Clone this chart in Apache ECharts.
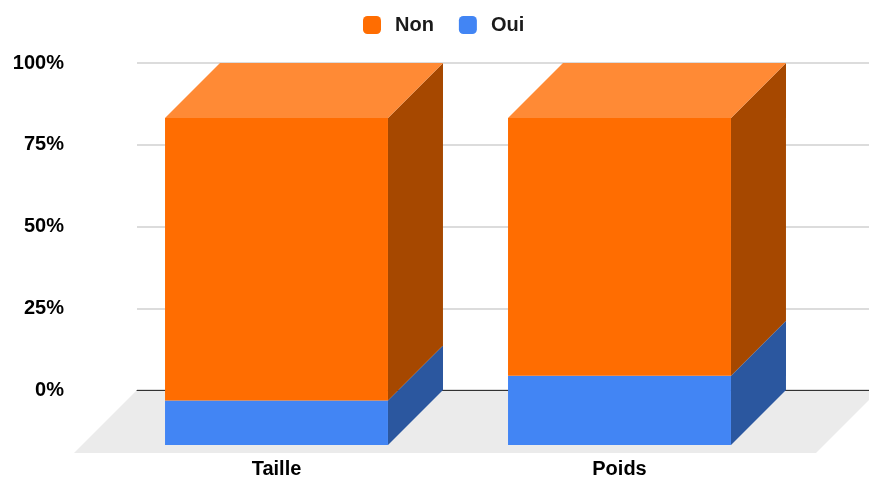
<!DOCTYPE html>
<html>
<head>
<meta charset="utf-8">
<script src="https://cdn.jsdelivr.net/npm/echarts@6/dist/echarts.min.js"></script>
<style>
  html, body { margin: 0; padding: 0; background: #fff; }
  #chart { width: 869px; height: 479px; }
</style>
</head>
<body>
<div id="chart"></div>
<script>
"use strict";

// data
const categories = ['Taille', 'Poids'];
const nonValues = [86.4, 78.8];
const ouiValues = [13.6, 21.2];
const yTicks = [0, 25, 50, 75, 100];

// 3d look
const DEPTH = 55;
const FLOOR_DEPTH = 63;
const BAR_RATIO = 0.65;
const FONT = 'Liberation Sans, Arial, sans-serif';

const colors = {
    non: { front: '#ff6d01', top: '#ff8a35', side: '#a64800' },
    oui: { front: '#4285f4', top: '#6a9ff6', side: '#2b579f' }
};

// stacked ranges [cat, low, high]
const ouiRanges = categories.map((c, i) => [i, 0, ouiValues[i]]);
const nonRanges = categories.map((c, i) => [i, ouiValues[i], ouiValues[i] + nonValues[i]]);

function boxRenderer(palette, withTop) {
    return function (params, api) {
        const i = api.value(0);
        const lo = api.coord([i, api.value(1)]);
        const hi = api.coord([i, api.value(2)]);
        const half = api.size([1, 0])[0] * BAR_RATIO / 2;
        const xl = lo[0] - half - DEPTH;
        const xr = lo[0] + half - DEPTH;
        const yTop = hi[1] + DEPTH;
        const yBot = lo[1] + DEPTH;
        const children = [
            {
                type: 'polygon',
                shape: { points: [[xr, yTop], [xr + DEPTH, yTop - DEPTH], [xr + DEPTH, yBot - DEPTH], [xr, yBot]] },
                style: { fill: palette.side }
            },
            {
                type: 'rect',
                shape: { x: xl, y: yTop, width: xr - xl, height: yBot - yTop },
                style: { fill: palette.front }
            }
        ];
        if (withTop) {
            children.push({
                type: 'polygon',
                shape: { points: [[xl, yTop], [xl + DEPTH, yTop - DEPTH], [xr + DEPTH, yTop - DEPTH], [xr, yTop]] },
                style: { fill: palette.top }
            });
        }
        return { type: 'group', children: children };
    };
}

function floorRenderer(params, api) {
    const cs = params.coordSys;
    const y0 = api.coord([0, 0])[1];
    const x0 = cs.x;
    const x1 = cs.x + cs.width + 10;
    return {
        type: 'polygon',
        shape: { points: [[x0, y0], [x1, y0], [x1 - FLOOR_DEPTH, y0 + FLOOR_DEPTH], [x0 - FLOOR_DEPTH, y0 + FLOOR_DEPTH]] },
        style: { fill: '#ebebeb' }
    };
}

const chart = echarts.init(document.getElementById('chart'));

const option = {
    animation: false,
    backgroundColor: '#ffffff',
    legend: {
        data: ['Non', 'Oui'],
        top: 15,
        left: 363,
        padding: 0,
        itemWidth: 18,
        itemHeight: 18,
        itemGap: 25,
        icon: 'roundRect',
        textStyle: { fontFamily: FONT, fontWeight: 'bold', fontSize: 20, color: '#1a1a1a', padding: [0, 0, 0, 9] }
    },
    grid: [
        { left: 137, right: 0, top: 63, bottom: 89 },
        { left: 160, right: 23, top: 63, bottom: 89 },
        { left: 105, right: 78, top: 118, bottom: 34 }
    ],
    xAxis: [
        {
            gridIndex: 0, type: 'category', data: categories, z: 1,
            axisLine: { lineStyle: { color: '#333', width: 1 } },
            axisTick: { show: false }, axisLabel: { show: false }
        },
        {
            gridIndex: 1, type: 'category', data: categories, show: false
        },
        {
            gridIndex: 2, type: 'category', data: categories,
            axisLine: { show: false }, axisTick: { show: false },
            axisLabel: { margin: 17, fontFamily: FONT, fontWeight: 'bold', fontSize: 20, color: '#000' }
        }
    ],
    yAxis: [
        {
            gridIndex: 0, type: 'value', min: 0, max: 100, interval: 25,
            axisLine: { show: false }, axisTick: { show: false },
            axisLabel: {
                margin: 73, fontFamily: FONT, fontWeight: 'bold', fontSize: 20, color: '#000',
                padding: [3, 0, 0, 0],
                formatter: (v) => yTicks.indexOf(v) >= 0 ? v + '%' : ''
            },
            splitLine: { lineStyle: { color: '#d0d0d0', width: 1.5 } }
        },
        { gridIndex: 1, type: 'value', min: 0, max: 100, show: false },
        { gridIndex: 2, type: 'value', min: 0, max: 100, show: false }
    ],
    series: [
        {
            type: 'custom', name: 'floor', xAxisIndex: 0, yAxisIndex: 0, z: 0,
            silent: true, renderItem: floorRenderer, data: [[0, 0]]
        },
        {
            type: 'custom', name: 'Oui', xAxisIndex: 1, yAxisIndex: 1, z: 3,
            itemStyle: { color: colors.oui.front },
            renderItem: boxRenderer(colors.oui, false),
            encode: { x: 0, y: [1, 2] },
            data: ouiRanges
        },
        {
            type: 'custom', name: 'Non', xAxisIndex: 1, yAxisIndex: 1, z: 3,
            itemStyle: { color: colors.non.front },
            renderItem: boxRenderer(colors.non, true),
            encode: { x: 0, y: [1, 2] },
            data: nonRanges
        }
    ]
};

chart.setOption(option);
</script>
</body>
</html>
